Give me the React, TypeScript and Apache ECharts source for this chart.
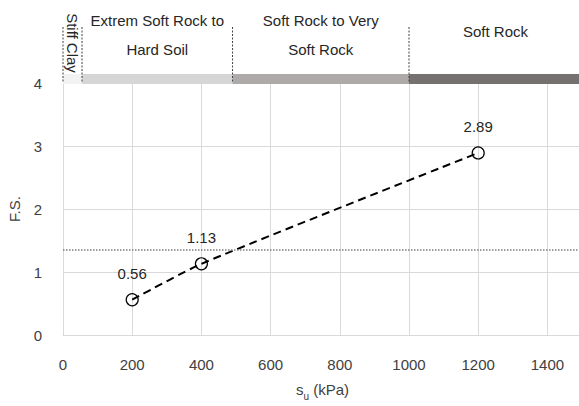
import React, { useEffect, useRef } from "react";
import * as echarts from "echarts";

const suValues = [200, 400, 1200];
const fsValues = [0.56, 1.13, 2.89];
const fsThreshold = 1.35;
const zoneNames = ["Stiff Clay", "Extrem Soft Rock to\nHard Soil", "Soft Rock to Very\nSoft Rock", "Soft Rock"];
const zoneStarts = [0, 55, 490, 1000];
const zoneEnds = [55, 490, 1000, 1500];
const zoneColors = ["#f2f2f2", "#d6d6d6", "#aeaaaa", "#767171"];

const X_MIN = 0;
const X_MAX = 1500;
const Y_MIN = 0;
const Y_MAX = 4;
const FONT = "'Liberation Sans', Arial, sans-serif";
const TXT = "#404040";

export default function App() {
  const ref = useRef<HTMLDivElement>(null);
  useEffect(() => {
    document.body.style.margin = "0";
    const chart = echarts.init(ref.current!, null, { renderer: "svg" });
    const zoneData = zoneNames.map((_, i) => [zoneStarts[i], zoneEnds[i], Y_MAX]);
    chart.setOption({
      animation: false,
      backgroundColor: "#ffffff",
      textStyle: { fontFamily: FONT },
      grid: { left: 63, top: 83, right: -3, bottom: 71, containLabel: false, outerBoundsMode: "none" },
      xAxis: {
        type: "value",
        min: X_MIN,
        max: X_MAX,
        interval: 200,
        axisLine: { show: true, lineStyle: { color: "#d9d9d9", width: 1 } },
        axisTick: { show: false },
        splitLine: { show: true, lineStyle: { color: "#d9d9d9", width: 1 } },
        axisLabel: {
          fontSize: 15,
          color: TXT,
          margin: 22,
          showMaxLabel: false,
          fontFamily: FONT,
          formatter: (v: number) => String(v),
        },
        name: "{m|s}{sub|u}{m| (kPa)}",
        nameLocation: "middle",
        nameGap: 47,
        nameTextStyle: {
          rich: {
            m: { fontSize: 15, color: TXT, fontFamily: FONT, padding: [0, 0, 4, 0] },
            sub: { fontSize: 10, color: TXT, fontFamily: FONT, verticalAlign: "bottom" },
          },
        },
      },
      yAxis: {
        type: "value",
        min: Y_MIN,
        max: Y_MAX,
        interval: 1,
        axisLine: { show: false },
        axisTick: { show: false },
        splitLine: { show: true, lineStyle: { color: "#d9d9d9", width: 1 } },
        axisLabel: { fontSize: 15, color: TXT, margin: 21, fontFamily: FONT },
        name: "F.S.",
        nameLocation: "middle",
        nameGap: 41,
        nameTextStyle: { fontSize: 15, color: TXT, fontFamily: FONT },
      },
      series: [
        {
          type: "custom",
          clip: false,
          silent: true,
          z: 1,
          encode: { x: [0, 1], y: 2 },
          data: zoneData,
          renderItem: (params: any, api: any) => {
            const i = params.dataIndex;
            const a = api.coord([api.value(0), api.value(2)]);
            const b = api.coord([api.value(1), api.value(2)]);
            const top = a[1];
            const cx = (a[0] + b[0]) / 2;
            const name = zoneNames[i];
            const vertical = i === 0;
            const multi = name.indexOf("\n") >= 0;
            return {
              type: "group",
              children: [
                {
                  type: "rect",
                  shape: { x: a[0], y: top - 9, width: b[0] - a[0], height: 10 },
                  style: { fill: zoneColors[i] },
                },
                {
                  type: "line",
                  shape: { x1: a[0], y1: top - 56, x2: a[0], y2: top },
                  style: { stroke: "#404040", lineWidth: 1, lineDash: [2, 1.5] },
                },
                {
                  type: "text",
                  x: cx,
                  y: vertical ? top - 40 : multi ? top - 48.5 : top - 52,
                  rotation: vertical ? -Math.PI / 2 : 0,
                  style: {
                    text: name,
                    fill: "#262626",
                    fontSize: 15,
                    fontFamily: FONT,
                    align: "center",
                    verticalAlign: "middle",
                    lineHeight: 29,
                  },
                },
              ],
            };
          },
        },
        {
          type: "line",
          z: 3,
          data: suValues.map((x, i) => [x, fsValues[i]]),
          smooth: 0.2,
          symbol: "circle",
          symbolSize: 12,
          lineStyle: { color: "#000000", width: 2, type: [8, 5] },
          itemStyle: { color: "rgba(0,0,0,0)", borderColor: "#000000", borderWidth: 1.2 },
          label: {
            show: true,
            position: "top",
            distance: 12,
            fontSize: 15,
            color: "#262626",
            fontFamily: FONT,
            formatter: (p: any) => Number(p.value[1]).toFixed(2),
          },
          markLine: {
            silent: true,
            symbol: "none",
            label: { show: false },
            lineStyle: { color: "#7f7f7f", type: "dotted", width: 1.5 },
            data: [{ yAxis: fsThreshold }],
          },
        },
      ],
    });
    return () => chart.dispose();
  }, []);
  return <div ref={ref} style={{ width: 579, height: 406 }} />;
}
